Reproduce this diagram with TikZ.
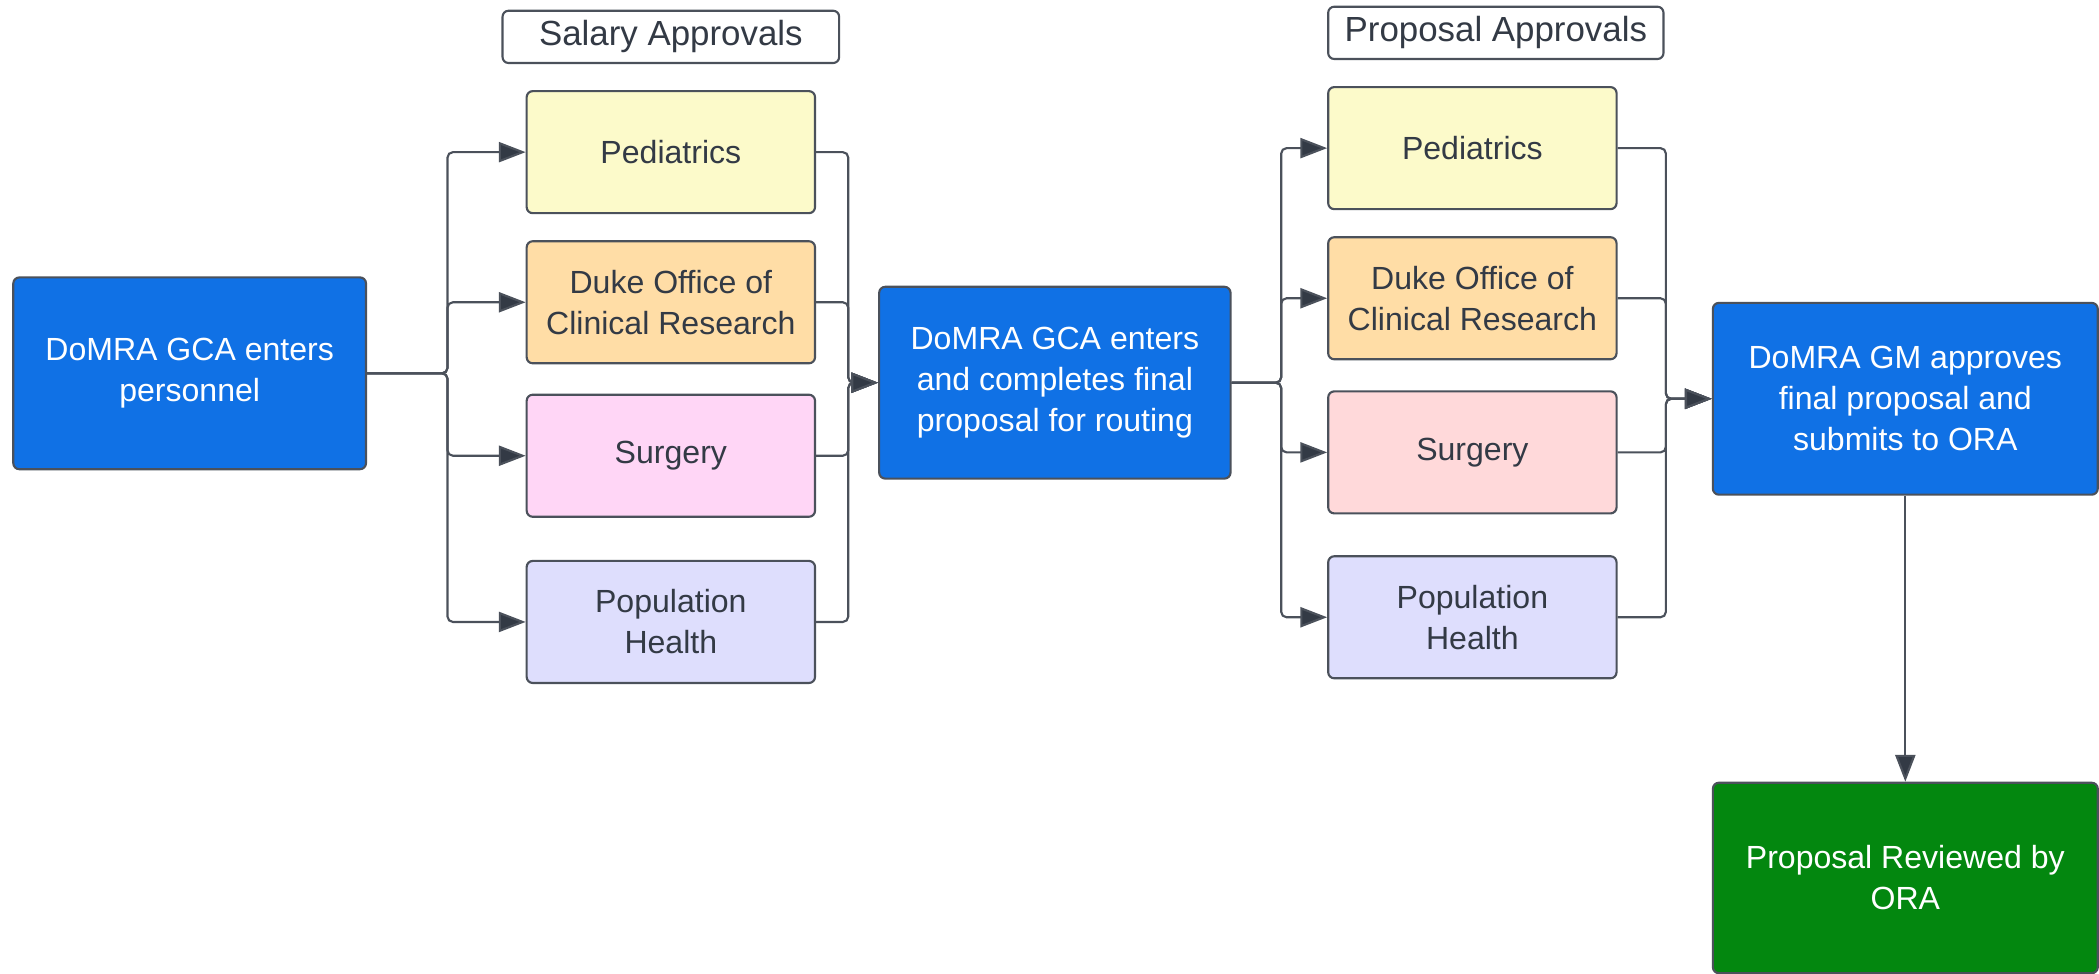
\documentclass[tikz,border=0pt]{standalone}
\usepackage{fontspec}
\setmainfont{Liberation Sans}
\usetikzlibrary{arrows.meta,positioning}

\definecolor{domrablue}{HTML}{1071E5}
\definecolor{oragreen}{HTML}{03870F}
\definecolor{pedsyellow}{HTML}{FCFACA}
\definecolor{dukeorange}{HTML}{FFDDA6}
\definecolor{surgpink}{HTML}{FFD6F6}
\definecolor{surgrose}{HTML}{FFD9DA}
\definecolor{poplilac}{HTML}{DEDEFD}
\definecolor{boxline}{HTML}{4B515B}
\definecolor{flowline}{HTML}{4B515B}
\definecolor{labeltext}{HTML}{333A45}

\tikzset{
  box/.style={draw=boxline, line width=0.45pt, rounded corners=0.045cm, align=center,
    inner sep=0pt, font=\fontsize{6.8}{8.7}\selectfont},
  bluebox/.style={box, fill=domrablue, text=white, minimum width=2.63cm, minimum height=1.43cm},
  unitbox/.style={box, text=labeltext, minimum width=2.15cm, minimum height=0.91cm},
  headbox/.style={box, fill=white, text=labeltext, minimum width=2.51cm, minimum height=0.39cm,
    font=\fontsize{7.4}{9}\selectfont},
  flow/.style={draw=flowline, line width=0.45pt, rounded corners=0.04cm,
    -{Triangle[length=0.2cm,width=0.15cm,fill=labeltext]}}
}

\begin{document}
\begin{tikzpicture}[x=0.01cm,y=-0.01cm]
\useasboundingbox (0,0) rectangle (1566,726);
% start
\node[bluebox] (gca) at (141.5,278.5) {DoMRA GCA enters\\personnel};
% salary approvals
\node[headbox] (stitle) at (500.5,27.5) {Salary Approvals};
\node[unitbox, fill=pedsyellow] (sped) at (500.5,113.5) {Pediatrics};
\node[unitbox, fill=dukeorange] (sduke) at (500.5,225.5) {Duke Office of\\Clinical Research};
\node[unitbox, fill=surgpink] (ssurg) at (500.5,340) {Surgery};
\node[unitbox, fill=poplilac] (spop) at (500.5,464) {Population\\Health};
% final proposal
\node[bluebox, minimum width=2.62cm] (mid) at (787,285.5) {DoMRA GCA enters\\and completes final\\proposal for routing};
% proposal approvals
\node[headbox, minimum width=2.5cm] (ptitle) at (1116,24.5) {Proposal Approvals};
\node[unitbox, fill=pedsyellow] (pped) at (1098.5,110.5) {Pediatrics};
\node[unitbox, fill=dukeorange] (pduke) at (1098.5,222.5) {Duke Office of\\Clinical Research};
\node[unitbox, fill=surgrose] (psurg) at (1098.5,337.5) {Surgery};
\node[unitbox, fill=poplilac] (ppop) at (1098.5,460.5) {Population\\Health};
% submit and review
\node[bluebox, minimum width=2.87cm] (gm) at (1421.5,297.5) {DoMRA GM approves\\final proposal and\\submits to ORA};
\node[bluebox, fill=oragreen, minimum width=2.87cm, minimum height=1.42cm] (ora) at (1421.5,655) {Proposal Reviewed by\\ORA};
% connectors
\foreach \n in {sped,sduke,ssurg,spop} {
  \draw[flow] (gca.east) -- ++(60,0) |- (\n.west);
  \draw[flow] (\n.east) -- ++(24,0) |- (mid.west);
}
\foreach \n in {pped,pduke,psurg,ppop} {
  \draw[flow] (mid.east) -- ++(37,0) |- (\n.west);
  \draw[flow] (\n.east) -- ++(36,0) |- (gm.west);
}
\draw[flow] (gm) -- (ora);
\end{tikzpicture}
\end{document}
